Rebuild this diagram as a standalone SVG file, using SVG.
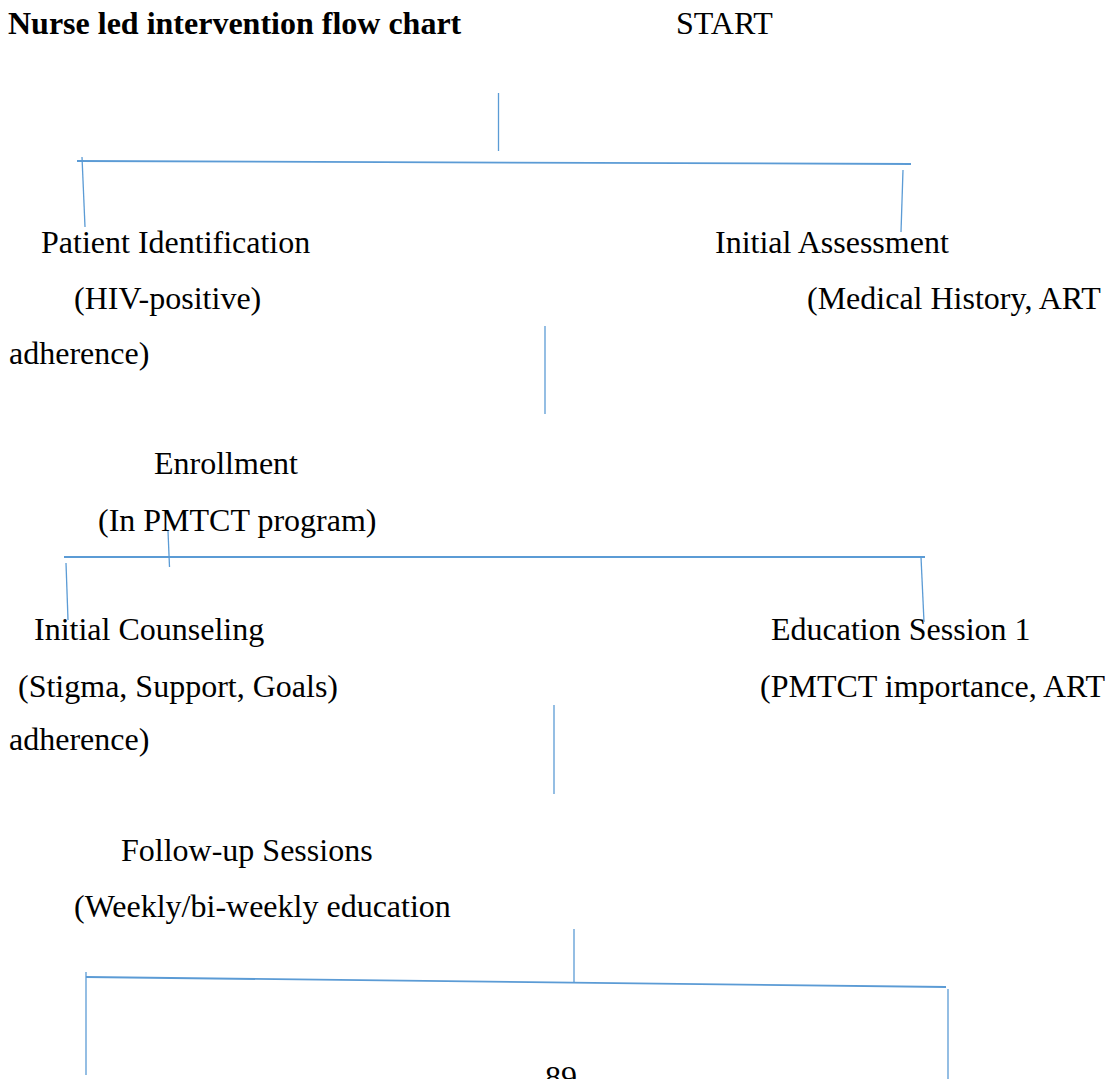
<svg xmlns="http://www.w3.org/2000/svg" width="1116" height="1079" viewBox="0 0 1116 1079">
<style>
text{font-family:"Liberation Serif","Times New Roman",serif;font-size:32px;fill:#000}
.title{font-weight:bold}
.conn line{stroke:#5B9BD5;stroke-width:1.3;fill:none}
.conn line.h{stroke-width:1.8}
</style>
<rect width="1116" height="1079" fill="#fff"/>
<g id="title"><text class="title" x="8" y="34">Nurse led intervention flow chart</text></g>
<g id="start"><text x="676" y="34">START</text></g>
<g id="patient-identification"><text x="41" y="253">Patient Identification</text><text x="74" y="309">(HIV-positive)</text></g>
<g id="initial-assessment"><text x="715" y="253">Initial Assessment</text><text x="807" y="309">(Medical History, ART</text><text x="9" y="364">adherence)</text></g>
<g id="enrollment"><text x="154" y="474">Enrollment</text><text x="98" y="531">(In PMTCT program)</text></g>
<g id="initial-counseling"><text x="34" y="640">Initial Counseling</text><text x="18" y="697">(Stigma, Support, Goals)</text></g>
<g id="education-session-1"><text x="771" y="640">Education Session 1</text><text x="760" y="697">(PMTCT importance, ART</text><text x="9" y="750">adherence)</text></g>
<g id="follow-up-sessions"><text x="121" y="861">Follow-up Sessions</text><text x="74" y="917">(Weekly/bi-weekly education</text></g>
<g id="page-number"><text x="545" y="1088">89</text></g>
<g class="conn" id="connectors">
<line x1="498.5" y1="93" x2="498.5" y2="151"/>
<line class="h" x1="77" y1="161" x2="911" y2="164"/>
<line x1="82" y1="157" x2="85" y2="227"/>
<line x1="903" y1="170" x2="901" y2="232"/>
<line x1="545" y1="326" x2="545" y2="414"/>
<line class="h" x1="64" y1="557" x2="925" y2="557"/>
<line x1="168" y1="531" x2="169.5" y2="567"/>
<line x1="66" y1="563" x2="68" y2="620"/>
<line x1="921" y1="557" x2="924" y2="622"/>
<line x1="554" y1="705" x2="554" y2="794"/>
<line x1="574" y1="929" x2="574" y2="983"/>
<line class="h" x1="86" y1="977" x2="946" y2="987"/>
<line x1="86" y1="972" x2="86" y2="1075"/>
<line x1="948" y1="989" x2="948" y2="1079"/>
</g>
</svg>
